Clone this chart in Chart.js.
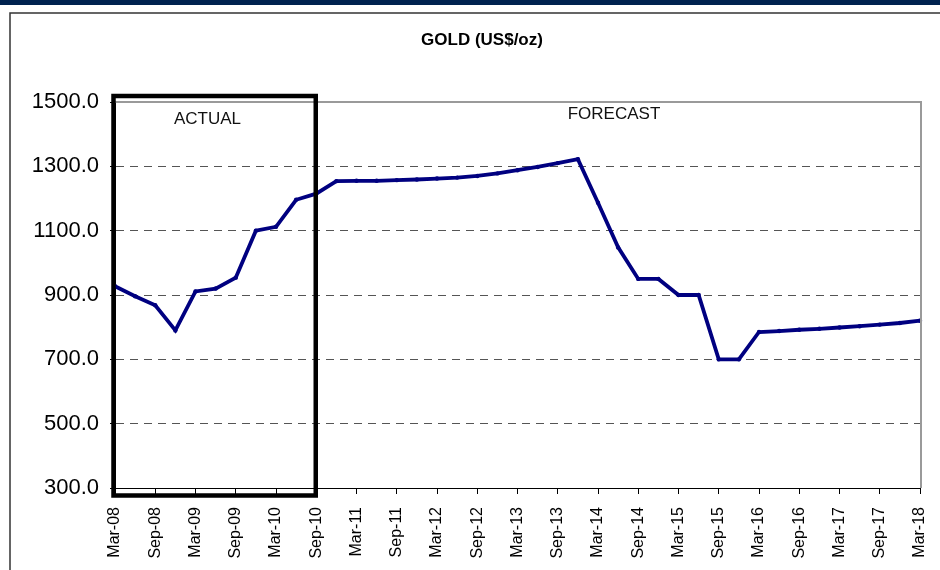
<!DOCTYPE html>
<html>
<head>
<meta charset="utf-8">
<script src="https://cdn.jsdelivr.net/npm/chart.js@4/dist/chart.umd.min.js"></script>
<style>
  body { margin: 0; background: #fff; }
  #wrap { width: 940px; height: 570px; }
</style>
</head>
<body>
<div id="wrap"><canvas id="goldChart" width="940" height="570"></canvas></div>
<script>
// quarterly gold price, Mar-08 .. Mar-18
const quarters = [
  'Mar-08','Jun-08','Sep-08','Dec-08','Mar-09','Jun-09','Sep-09','Dec-09',
  'Mar-10','Jun-10','Sep-10','Dec-10','Mar-11','Jun-11','Sep-11','Dec-11',
  'Mar-12','Jun-12','Sep-12','Dec-12','Mar-13','Jun-13','Sep-13','Dec-13',
  'Mar-14','Jun-14','Sep-14','Dec-14','Mar-15','Jun-15','Sep-15','Dec-15',
  'Mar-16','Jun-16','Sep-16','Dec-16','Mar-17','Jun-17','Sep-17','Dec-17',
  'Mar-18'
];
const goldPrice = [
  927, 896, 868, 790, 911, 920, 954, 1100,
  1112, 1196, 1215, 1254, 1255, 1255, 1257, 1259,
  1262, 1265, 1270, 1278, 1288, 1298, 1310, 1322,
  1187, 1048, 950, 950, 900, 900, 700, 700,
  785, 788, 792, 795, 799, 803, 808, 813,
  820
];
const yTicks = [300, 500, 700, 900, 1100, 1300, 1500];
const chartTitle = 'GOLD (US$/oz)';
const actualEnd = 10; // Sep-10 is the last actual quarter

// frame, title, plot border, ACTUAL box and the two notes
const decorations = {
  id: 'decorations',
  beforeDraw(chart) {
    const ctx = chart.ctx;
    ctx.save();
    ctx.fillStyle = '#00224f';
    ctx.fillRect(0, 0, 940, 5);
    ctx.strokeStyle = '#333';
    ctx.lineWidth = 1.5;
    ctx.strokeRect(10, 13, 960, 600);

    ctx.fillStyle = '#000';
    ctx.font = 'bold 17px "Liberation Sans", Arial, sans-serif';
    ctx.textAlign = 'center';
    ctx.textBaseline = 'middle';
    ctx.fillText(chartTitle, 482, 40);
    ctx.restore();
  },
  afterDraw(chart) {
    const ctx = chart.ctx;
    const area = chart.chartArea;
    const x = chart.scales.x;
    ctx.save();
    // plot area top + right border
    ctx.strokeStyle = '#9a9a9a';
    ctx.lineWidth = 2;
    ctx.beginPath();
    ctx.moveTo(area.left, area.top);
    ctx.lineTo(area.right + 1, area.top);
    ctx.lineTo(area.right + 1, area.bottom);
    ctx.stroke();

    // box round the actual quarters
    const bx1 = x.getPixelForValue(0) - 1.5;
    const bx2 = x.getPixelForValue(actualEnd) - 0.5;
    ctx.strokeStyle = '#000';
    ctx.lineWidth = 4.5;
    ctx.strokeRect(bx1, area.top - 6, bx2 - bx1, area.bottom - area.top + 13.5);

    ctx.fillStyle = '#111';
    ctx.font = '17px "Liberation Sans", Arial, sans-serif';
    ctx.textAlign = 'center';
    ctx.textBaseline = 'middle';
    ctx.fillText('ACTUAL', bx1 + 94, area.top + 17);
    ctx.fillText('FORECAST', x.getPixelForValue(24) + 16, area.top + 12);
    ctx.restore();
  }
};

const ctx = document.getElementById('goldChart').getContext('2d');
const goldChart = new Chart(ctx, {
  type: 'line',
  data: {
    labels: quarters,
    datasets: [{
      label: 'Gold',
      data: goldPrice,
      borderColor: '#000080',
      backgroundColor: '#000080',
      borderWidth: 3.8,
      pointRadius: 2.2,
      pointBorderWidth: 0,
      pointBackgroundColor: '#000080',
      tension: 0,
      fill: false
    }]
  },
  options: {
    responsive: false,
    animation: false,
    layout: { padding: { left: 0, right: 20, top: 102, bottom: 0 } },
    plugins: {
      legend: { display: false },
      tooltip: { enabled: false },
      title: { display: false }
    },
    scales: {
      x: {
        offset: false,
        afterBuildTicks(scale) {
          scale.ticks = scale.ticks.filter((t, i) => i % 2 === 0);
        },
        afterFit(scale) {
          scale.height = 82;
          scale.paddingLeft = 0;
          scale.paddingRight = 0;
        },
        grid: {
          drawOnChartArea: false,
          drawTicks: true,
          tickLength: 6,
          tickColor: '#000'
        },
        border: { color: '#000', width: 1 },
        ticks: {
          autoSkip: false,
          minRotation: 90,
          maxRotation: 90,
          padding: 13,
          color: '#000',
          font: { family: '"Liberation Sans", Arial, sans-serif', size: 16 }
        }
      },
      y: {
        min: 300,
        max: 1500,
        afterBuildTicks(scale) {
          scale.ticks = yTicks.map(v => ({ value: v }));
        },
        afterFit(scale) { scale.width = 115; },
        grid: {
          color: '#555',
          lineWidth: 1,
          tickLength: 5,
          tickColor: '#000',
          tickBorderDash: []
        },
        border: { color: '#000', width: 1, dash: [8, 6] },
        ticks: {
          padding: 11,
          color: '#000',
          font: { family: '"Liberation Sans", Arial, sans-serif', size: 22 },
          callback: v => v.toFixed(1)
        }
      }
    }
  },
  plugins: [decorations]
});
</script>
</body>
</html>
